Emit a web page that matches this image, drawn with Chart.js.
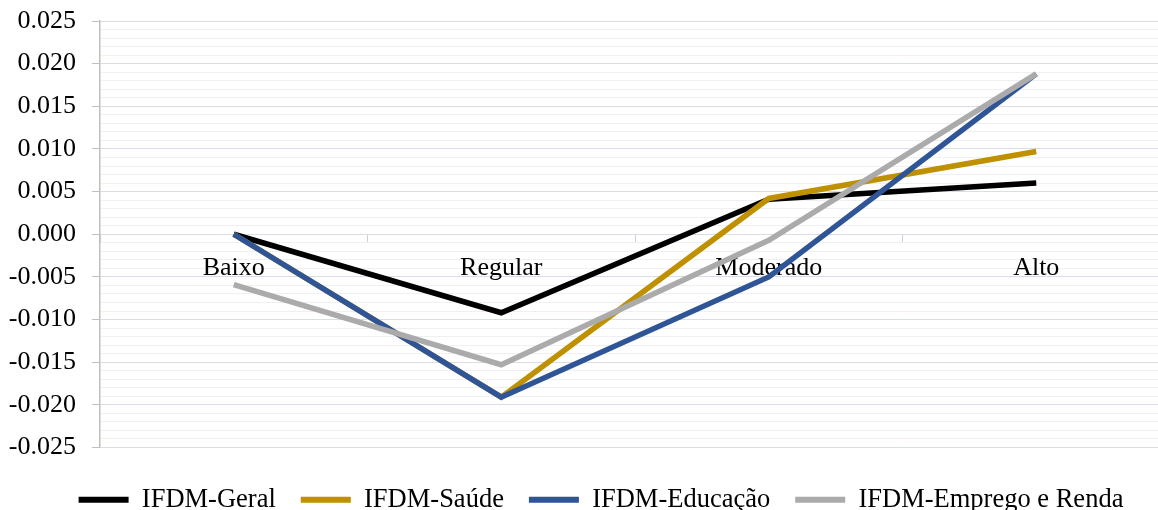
<!DOCTYPE html>
<html>
<head>
<meta charset="utf-8">
<title>IFDM</title>
<script src="https://cdn.jsdelivr.net/npm/chart.js@4.4.0/dist/chart.umd.min.js"></script>
<style>
  html, body { margin: 0; padding: 0; background: #ffffff; overflow: hidden; }
  #wrap { width: 1200px; height: 523px; }
</style>
</head>
<body>
<div id="wrap"><canvas id="chart" width="1200" height="523"></canvas></div>
<script>
// Categories and series values
const categories = ['Baixo', 'Regular', 'Moderado', 'Alto'];
const seriesNames = ['IFDM-Geral', 'IFDM-Saúde', 'IFDM-Educação', 'IFDM-Emprego e Renda'];
const geral    = [0.0000, -0.0092,  0.0041, 0.0060];
const saude    = [0.0000, -0.0191,  0.0042, 0.0097];
const educacao = [0.0000, -0.0191, -0.0050, 0.0188];
const emprego  = [-0.0059, -0.0153, -0.0007, 0.0188];

// Value axis range and tick steps
const yMin = -0.025;
const yMax = 0.025;
const majorStep = 0.005;
const minorStep = 0.001;

const seriesColors = ['#000000', '#bf9000', '#2f5597', '#ababab'];
const seriesValues = [geral, saude, educacao, emprego];

const FONT_FAMILY = "'Liberation Serif', 'Times New Roman', serif";
Chart.defaults.font.family = FONT_FAMILY;
Chart.defaults.color = '#000000';

const isMajor = (v) => Math.round(v / minorStep) % Math.round(majorStep / minorStep) === 0;

const datasets = seriesNames.map((name, i) => ({
  label: name,
  data: seriesValues[i],
  xAxisID: 'x',
  yAxisID: 'y',
  borderColor: seriesColors[i],
  backgroundColor: seriesColors[i],
  borderWidth: 5.5,
  pointRadius: 0,
  pointHoverRadius: 0,
  tension: 0,
  fill: false,
  // later series are painted above earlier ones
  order: seriesNames.length - i
}));

new Chart(document.getElementById('chart'), {
  type: 'line',
  data: { labels: categories, datasets },
  options: {
    responsive: false,
    animation: false,
    devicePixelRatio: 1,
    layout: { padding: { top: 21, left: 8, right: 6, bottom: 0 } },
    plugins: {
      tooltip: { enabled: false },
      legend: {
        position: 'bottom',
        labels: {
          boxWidth: 50,
          boxHeight: 6,
          padding: 25,
          color: '#000000',
          font: { size: 26.5, family: FONT_FAMILY },
          sort: (a, b) => a.datasetIndex - b.datasetIndex,
          generateLabels(chart) {
            const items = Chart.defaults.plugins.legend.labels.generateLabels(chart);
            items.forEach(it => { it.lineWidth = 0; it.strokeStyle = 'rgba(0,0,0,0)'; });
            return items;
          }
        }
      }
    },
    scales: {
      // category axis crossing the value axis at zero
      x: {
        type: 'category',
        position: { y: 0 },
        offset: true,
        grid: { offset: true, drawOnChartArea: false, drawTicks: true, tickLength: 8, color: '#d0d0d0', lineWidth: 1 },
        border: { display: true, color: '#d9dde6', width: 1 },
        ticks: { padding: 10, color: '#000000', font: { size: 26, family: FONT_FAMILY }, maxRotation: 0, autoSkip: false }
      },
      y: {
        type: 'linear',
        min: yMin,
        max: yMax,
        afterFit(scale) {
          scale.width = 92;
          scale.paddingTop = 0;
          scale.paddingBottom = 0;
        },
        grid: {
          drawTicks: true,
          tickLength: 8,
          color: (ctx) => (ctx.tick && isMajor(ctx.tick.value)) ? '#d9dde6' : '#eef0f4',
          tickColor: (ctx) => (ctx.tick && isMajor(ctx.tick.value)) ? '#bfbfbf' : 'rgba(0,0,0,0)',
          lineWidth: 1
        },
        border: { display: true, color: '#bfbfbf', width: 1.5 },
        ticks: {
          stepSize: minorStep,
          maxTicksLimit: 100,
          autoSkip: false,
          padding: 16,
          color: '#000000',
          font: { size: 26, family: FONT_FAMILY },
          callback: (v) => {
            if (!isMajor(v)) return '';
            const r = Math.abs(v) < 1e-9 ? 0 : v;
            return r.toFixed(3);
          }
        }
      },
      // empty spacer boxes: gap above the legend, and room right of the plot
      xGap: {
        type: 'category',
        position: 'bottom',
        display: true,
        grid: { display: false, drawTicks: false },
        border: { display: false },
        ticks: { display: false },
        afterFit(scale) { scale.height = 14; }
      },
      yGap: {
        type: 'linear',
        position: 'right',
        display: true,
        grid: { display: false, drawTicks: false },
        border: { display: false },
        ticks: { display: false },
        afterFit(scale) { scale.width = 24; }
      }
    }
  }
});
</script>
</body>
</html>
